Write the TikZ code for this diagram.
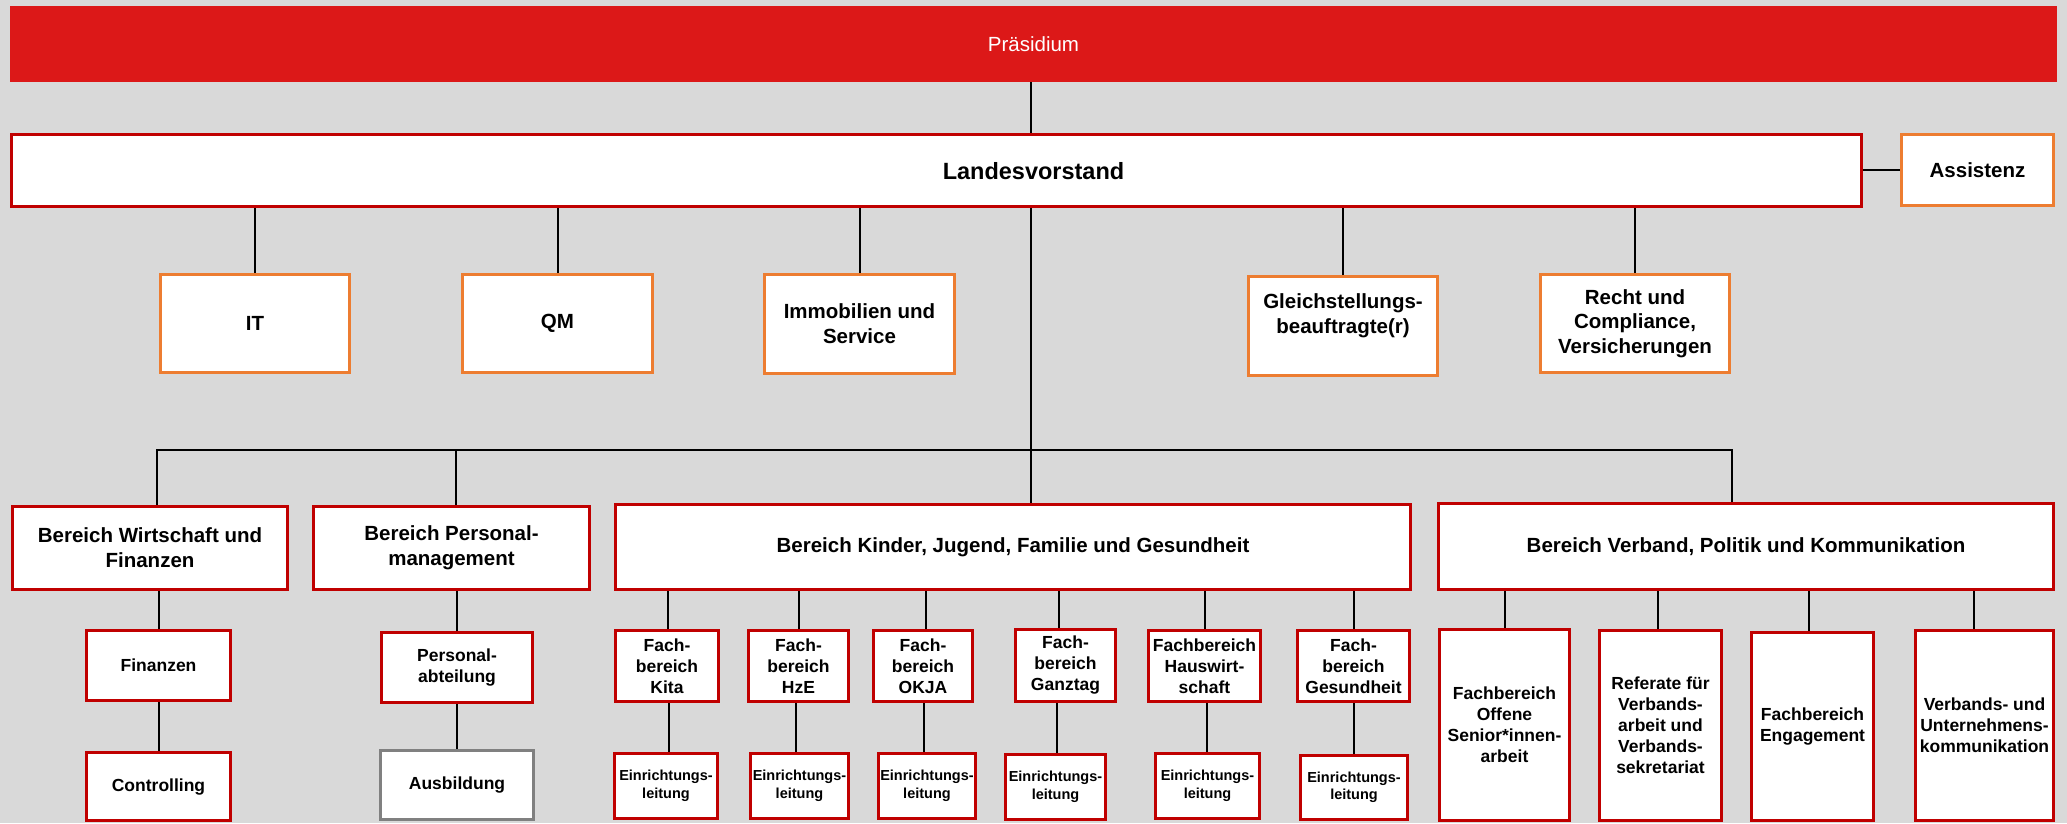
\documentclass[tikz,border=0pt]{standalone}
\usepackage{fontspec}
\setmainfont{Liberation Sans}
\definecolor{bg}{HTML}{D9D9D9}
\definecolor{praes}{HTML}{DC1818}
\definecolor{dred}{HTML}{C00000}
\definecolor{orng}{HTML}{ED7D31}
\definecolor{gry}{HTML}{808080}
\tikzset{
  box/.style={draw, line width=3pt, fill=white, inner sep=0pt, align=center},
  fbig/.style={font=\bfseries\fontsize{23.5}{28}\selectfont},
  fmid/.style={font=\bfseries\fontsize{20.5}{24.7}\selectfont},
  fsml/.style={font=\bfseries\fontsize{17.5}{21}\selectfont},
  ftin/.style={font=\bfseries\fontsize{14.5}{17.5}\selectfont},
  rb/.style 2 args={box, draw=dred, minimum width=#1pt, minimum height=#2pt},
  ob/.style 2 args={box, draw=orng, minimum width=#1pt, minimum height=#2pt},
  gb/.style 2 args={box, draw=gry, minimum width=#1pt, minimum height=#2pt},
  conn/.style={line width=2pt, black},
}
\begin{document}
\begin{tikzpicture}[x=1pt,y=-1pt]
\useasboundingbox (0,0) rectangle (2067,823);
\fill[bg] (0,0) rectangle (2067,823);

% top
\node[fill=praes, minimum width=2047pt, minimum height=76pt, inner sep=0pt, text=white,
      font=\fontsize{20.5}{24.7}\selectfont] (praes) at (1033.5,44) {Präsidium};
\node[rb={1850}{72}, label={[fbig, xshift=97pt, yshift=-1pt]center:Landesvorstand}] (landes) at (936.5,170.5) {};
\node[ob={152}{71}, fmid] (assist) at (1977.5,170) {Assistenz};

% staff units
\node[ob={189}{98}, fmid] (it) at (255,323.5) {IT};
\node[ob={190}{98}, fmid] (qm) at (557.5,323.5) {QM};
\node[ob={190}{99}, fmid] (immo) at (859.5,324) {Immobilien und\\Service};
\node[ob={189}{99}, fmid] (gleich) at (1343,326) {Gleichstellungs-\\beauftragte(r)\\\mbox{}};
\node[ob={189}{98}, fmid] (recht) at (1635,323.5) {Recht und\\Compliance,\\Versicherungen};

% Bereiche
\node[rb={275}{83}, fmid] (wf) at (150,548) {Bereich Wirtschaft und\\Finanzen};
\node[rb={276}{83}, fmid] (pm) at (451.5,548) {Bereich Personal-\\management};
\node[rb={795}{85}, fmid] (kjfg) at (1013,547) {Bereich Kinder, Jugend, Familie und Gesundheit};
\node[rb={615}{86}, fmid] (vpk) at (1746,546.5) {Bereich Verband, Politik und Kommunikation};

% Wirtschaft / Personal
\node[rb={144}{70}, fsml] (fin) at (158.5,665.5) {Finanzen};
\node[rb={144}{68}, fsml] (contr) at (158.5,786.5) {Controlling};
\node[rb={151}{70}, fsml] (pers) at (457,667.5) {Personal-\\abteilung};
\node[gb={153}{69}, fsml] (ausb) at (457,785) {Ausbildung};

% Kinder, Jugend ...
\node[rb={103}{71}, fsml] (fb1) at (667,666) {Fach-\\bereich\\Kita};
\node[rb={100}{71}, fsml] (fb2) at (798.5,666) {Fach-\\bereich\\HzE};
\node[rb={99}{71}, fsml] (fb3) at (923,666) {Fach-\\bereich\\OKJA};
\node[rb={100}{72}, fsml] (fb4) at (1065.5,665.5) {Fach-\\bereich\\Ganztag};
\node[rb={112}{71}, fsml] (fb5) at (1204.5,666) {Fachbereich\\Hauswirt-\\schaft};
\node[rb={112}{71}, fsml] (fb6) at (1353.5,666) {Fach-\\bereich\\Gesundheit};

\node[rb={103}{65}, ftin] (el1) at (666,786) {Einrichtungs-\\leitung};
\node[rb={98}{65}, ftin] (el2) at (799.5,786) {Einrichtungs-\\leitung};
\node[rb={97}{65}, ftin] (el3) at (927,786) {Einrichtungs-\\leitung};
\node[rb={100}{65}, ftin] (el4) at (1055.5,787) {Einrichtungs-\\leitung};
\node[rb={104}{65}, ftin] (el5) at (1207.5,786) {Einrichtungs-\\leitung};
\node[rb={107}{64}, ftin] (el6) at (1354,787.5) {Einrichtungs-\\leitung};

% Verband
\node[rb={130}{191}, fsml] (vs1) at (1504.5,725) {Fachbereich\\Offene\\Senior*innen-\\arbeit};
\node[rb={122}{190}, fsml] (vs2) at (1660.5,725.5) {Referate für\\Verbands-\\arbeit und\\Verbands-\\sekretariat};
\node[rb={122}{188}, fsml] (vs3) at (1812.5,726.5) {Fachbereich\\Engagement};
\node[rb={138}{190}, fsml] (vs4) at (1984.5,725.5) {Verbands- und\\Unternehmens-\\kommunikation};

% connectors
\coordinate (tr) at (1031,450);
\coordinate (bl) at (157,450);
\coordinate (br) at (1732,450);
\coordinate (pmx) at (456,450);
\draw[conn] (tr |- praes.south) -- (tr |- landes.north);
\draw[conn] (tr |- landes.south) -- (tr);
\draw[conn] (assist.west -| landes.east) -- (assist.west);
\foreach \n in {it,qm,immo,gleich,recht}
  \draw[conn] (\n.north) -- (\n.north |- landes.south);
\draw[conn] (bl |- wf.north) -- (bl) -- (br) -- (br |- vpk.north);
\draw[conn] (pmx) -- (pmx |- pm.north);
\draw[conn] (tr) -- (tr |- kjfg.north);

\draw[conn] (fin.north) -- (fin.north |- wf.south);
\draw[conn] (fin.south) -- (contr.north);
\draw[conn] (pers.north) -- (pers.north |- pm.south);
\draw[conn] (pers.south) -- (ausb.north);

\foreach \n/\dt/\db in {1/1/2,2/0.5/-2.5,3/2.5/1,4/-6.5/-8.5,5/0.5/2.5,6/0.5/0.5} {
  \path ([xshift=\dt pt]fb\n.north) coordinate (t\n);
  \draw[conn] (t\n) -- (t\n |- kjfg.south);
  \path ([xshift=\db pt]fb\n.south) coordinate (b\n);
  \draw[conn] (b\n) -- (b\n |- el\n.north);
}
\foreach \n/\dt in {1/0.5,2/-2.5,3/-3.5,4/-10.5} {
  \path ([xshift=\dt pt]vs\n.north) coordinate (v\n);
  \draw[conn] (v\n) -- (v\n |- vpk.south);
}
\end{tikzpicture}
\end{document}
